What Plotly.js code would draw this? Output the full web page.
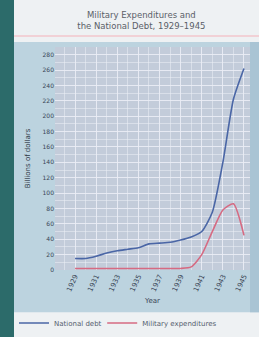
<!DOCTYPE html>
<html>
<head>
<meta charset="utf-8">
<script src="https://cdn.plot.ly/plotly-3.0.1.min.js"></script>
<style>
  html, body { margin: 0; padding: 0; background: #2c6b6a; width: 259px; height: 337px; overflow: hidden; }
  #chart { position: absolute; left: 14px; top: 0; width: 245px; height: 337px; }
</style>
</head>
<body>
<div id="chart"></div>
<script>
// Data (billions of dollars)
var years = [1929, 1930, 1931, 1932, 1933, 1934, 1935, 1936, 1937, 1938, 1939, 1940, 1941, 1942, 1943, 1944, 1945];
var nationalDebt = [15, 15, 18, 22, 25, 27, 29, 34, 35, 36, 39, 43, 50, 75, 140, 222, 262];
var militaryExp = [2, 2, 2, 2, 2, 2, 2, 2, 2, 2, 2, 4, 20, 50, 78, 86, 45];
var xTickYears = [1929, 1931, 1933, 1935, 1937, 1939, 1941, 1943, 1945];
var yTickValues = [0, 20, 40, 60, 80, 100, 120, 140, 160, 180, 200, 220, 240, 260, 280];

var traces = [
  {
    x: years, y: nationalDebt, type: 'scatter', mode: 'lines',
    name: 'National debt', legend: 'legend',
    line: { color: '#4a66a6', width: 1.6, shape: 'spline', smoothing: 0.6 }
  },
  {
    x: years, y: militaryExp, type: 'scatter', mode: 'lines',
    name: 'Military expenditures', legend: 'legend2',
    line: { color: '#d66a82', width: 1.6, shape: 'spline', smoothing: 0.6 }
  }
];

var legendFont = { size: 7, color: '#55606e' };

var layout = {
  width: 245, height: 337,
  margin: { l: 41, r: 9, t: 47, b: 67, autoexpand: false },
  paper_bgcolor: '#eef1f3',
  plot_bgcolor: 'rgba(0,0,0,0)',
  font: { family: 'DejaVu Sans, sans-serif', size: 7, color: '#3b4656' },
  title: {
    text: 'Military Expenditures and<br>the National Debt, 1929–1945',
    font: { size: 8.5, color: '#5a6068' },
    xref: 'container', yref: 'container',
    x: 0.52, xanchor: 'center', y: 1 - 18 / 337, yanchor: 'middle'
  },
  showlegend: true,
  legend: {
    orientation: 'h', xref: 'container', yref: 'container',
    x: -0.015, xanchor: 'left', y: 1 - 323 / 337, yanchor: 'middle',
    font: legendFont, bgcolor: 'rgba(0,0,0,0)'
  },
  legend2: {
    orientation: 'h', xref: 'container', yref: 'container',
    x: 0.36, xanchor: 'left', y: 1 - 323 / 337, yanchor: 'middle',
    font: legendFont, bgcolor: 'rgba(0,0,0,0)'
  },
  xaxis: {
    range: [1927.1, 1945.57],
    tickvals: xTickYears,
    ticktext: xTickYears.map(String),
    tickangle: -65,
    tickfont: { size: 7, color: '#3a4556' },
    showgrid: true, gridcolor: 'rgba(235,238,245,0.75)', gridwidth: 1,
    minor: { dtick: 1, tick0: 1929, showgrid: true, gridcolor: 'rgba(235,238,245,0.55)', gridwidth: 1 },
    zeroline: false, showline: false, ticks: '',
    title: { text: 'Year', font: { size: 7, color: '#3a4556' }, standoff: 6 }
  },
  yaxis: {
    range: [0, 290],
    tickvals: yTickValues,
    ticktext: yTickValues.map(String),
    tickfont: { size: 6, color: '#3a4556' },
    showgrid: true, gridcolor: 'rgba(235,238,245,0.75)', gridwidth: 1,
    minor: { dtick: 10, showgrid: true, gridcolor: 'rgba(235,238,245,0.55)', gridwidth: 1 },
    zeroline: false, showline: false, ticks: '',
    title: { text: 'Billions of dollars', font: { size: 7, color: '#2e3846' }, standoff: 11 }
  },
  shapes: [
    // light-blue panel behind the chart
    { type: 'rect', xref: 'paper', yref: 'paper', x0: -0.215, x1: 1.05, y0: -0.19, y1: 1.022,
      fillcolor: '#bcd3df', line: { width: 0 }, layer: 'below' },
    // plot area tint
    { type: 'rect', xref: 'paper', yref: 'paper', x0: 0, x1: 1, y0: 0, y1: 1,
      fillcolor: '#c3ccda', line: { width: 0 }, layer: 'below' },
    // darker strip on right
    { type: 'rect', xref: 'paper', yref: 'paper', x0: 1.0, x1: 1.05, y0: -0.19, y1: 1.022,
      fillcolor: '#a9c4d4', line: { width: 0 }, layer: 'below' },
    // pink rule under title
    { type: 'line', xref: 'paper', yref: 'paper', x0: -0.215, x1: 1.05, y0: 1.049, y1: 1.049,
      line: { color: '#f2c6cc', width: 1.5 } }
  ]
};

Plotly.newPlot('chart', traces, layout, { staticPlot: true, displayModeBar: false });
</script>
</body>
</html>
